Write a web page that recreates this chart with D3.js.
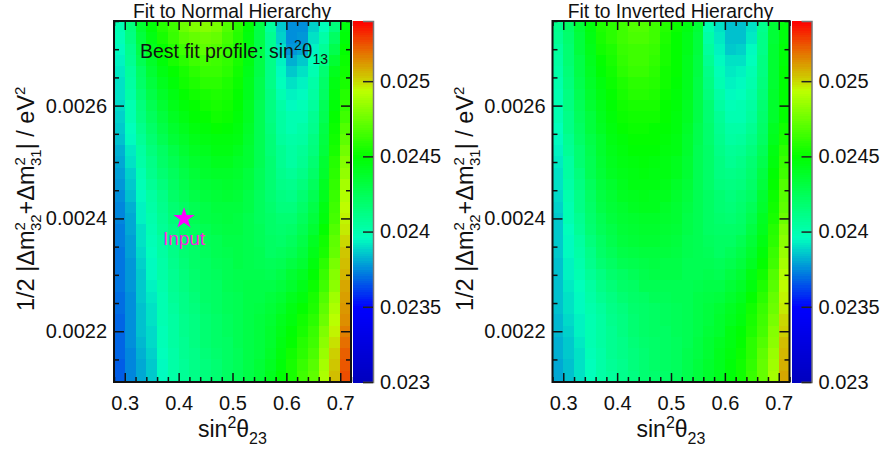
<!DOCTYPE html>
<html><head><meta charset="utf-8">
<script src="https://cdn.jsdelivr.net/npm/d3@7"></script>
<style>html,body{margin:0;background:#fff}svg{display:block}text{font-family:"Liberation Sans",Arial,sans-serif;fill:#111}</style>
</head><body><svg id="c" width="885" height="450"></svg>
<script>
// bin centres
const sinBins=[0.29,0.31,0.33,0.35,0.37,0.39,0.41,0.43,0.45,0.47,0.49,0.51,0.53,0.55,0.57,0.59,0.61,0.63,0.65,0.67,0.69,0.71];
const dmBins=[0.00274,0.00272,0.0027,0.00268,0.00266,0.00264,0.00262,0.0026,0.00258,0.00256,0.00254,0.00252,0.0025,0.00248,0.00246,0.00244,0.00242,0.0024,0.00238,0.00236,0.00234,0.00232,0.0023,0.00228,0.00226,0.00224,0.00222,0.0022,0.00218,0.00216,0.00214,0.00212];
// values are (sin2theta13 - 0.023) * 1e6, one list per sin2theta23 bin, top row first
const normalValues=[
[1000,980,960,940,920,910,900,890,880,860,840,820,800,790,770,750,740,740,730,730,720,720,710,710,700,700,690,690,680,680,670,670],
[1150,1130,1100,1080,1060,1040,1020,1000,990,970,950,920,900,880,860,840,820,810,800,790,790,780,780,770,760,760,750,750,750,740,740,740],
[1350,1320,1290,1260,1230,1200,1180,1150,1130,1100,1070,1050,1020,1000,980,960,940,930,910,900,890,880,870,860,860,850,840,840,830,820,810,810],
[1480,1450,1420,1390,1360,1330,1300,1270,1240,1210,1180,1150,1120,1100,1070,1050,1030,1010,1000,980,970,960,950,930,920,910,900,890,890,880,870,870],
[1580,1550,1510,1480,1450,1420,1390,1360,1330,1300,1270,1230,1200,1180,1150,1120,1100,1080,1070,1050,1040,1030,1020,1010,1000,1000,990,980,980,970,960,960],
[1650,1620,1580,1550,1510,1480,1450,1430,1400,1370,1340,1300,1270,1240,1220,1200,1170,1160,1140,1120,1110,1100,1090,1080,1070,1060,1050,1050,1040,1030,1020,1020],
[1750,1700,1650,1600,1560,1530,1500,1480,1450,1420,1390,1360,1330,1300,1280,1250,1230,1220,1200,1180,1170,1160,1150,1130,1120,1110,1100,1100,1090,1080,1070,1070],
[1790,1740,1690,1640,1600,1570,1540,1510,1490,1460,1430,1400,1370,1340,1320,1290,1270,1260,1240,1220,1210,1200,1190,1170,1160,1150,1140,1140,1130,1120,1110,1110],
[1800,1750,1710,1660,1620,1590,1560,1530,1510,1480,1450,1420,1390,1370,1340,1320,1300,1290,1270,1250,1240,1230,1220,1210,1200,1190,1180,1180,1170,1160,1150,1150],
[1770,1730,1690,1650,1620,1600,1570,1550,1530,1500,1470,1440,1410,1390,1360,1340,1320,1310,1290,1270,1260,1250,1240,1230,1230,1220,1210,1210,1200,1190,1180,1180],
[1680,1660,1630,1610,1590,1570,1550,1530,1520,1490,1460,1440,1410,1390,1370,1350,1330,1320,1310,1290,1280,1270,1260,1260,1250,1250,1240,1240,1230,1230,1220,1220],
[1600,1580,1570,1550,1530,1520,1510,1490,1480,1460,1440,1410,1390,1370,1360,1340,1320,1310,1310,1300,1290,1290,1280,1280,1270,1270,1260,1260,1260,1250,1250,1250],
[1480,1470,1450,1440,1430,1420,1410,1400,1400,1390,1370,1360,1350,1330,1320,1300,1290,1280,1280,1280,1280,1280,1280,1290,1290,1290,1290,1290,1290,1290,1290,1290],
[1300,1300,1290,1290,1290,1280,1280,1270,1270,1270,1260,1260,1260,1250,1250,1240,1240,1240,1250,1250,1260,1270,1280,1290,1300,1310,1320,1320,1330,1330,1340,1340],
[1060,1080,1090,1110,1120,1120,1130,1130,1140,1150,1160,1160,1170,1170,1180,1180,1190,1200,1210,1220,1230,1250,1270,1290,1320,1340,1350,1370,1380,1390,1400,1410],
[860,880,900,930,950,970,990,1020,1040,1050,1060,1080,1090,1100,1120,1130,1150,1170,1190,1210,1240,1270,1300,1330,1360,1390,1410,1430,1450,1470,1480,1490],
[750,750,770,820,860,900,930,960,990,1000,1020,1040,1050,1070,1100,1120,1150,1180,1210,1240,1270,1310,1350,1380,1410,1440,1470,1490,1510,1530,1550,1560],
[760,780,810,860,900,930,960,980,1000,1020,1040,1070,1090,1120,1150,1180,1210,1240,1270,1300,1320,1360,1400,1430,1470,1500,1530,1560,1580,1600,1620,1640],
[880,900,930,970,1000,1020,1040,1060,1080,1100,1130,1150,1180,1210,1240,1270,1300,1330,1360,1400,1430,1460,1490,1520,1550,1570,1590,1620,1650,1670,1700,1720],
[970,1020,1070,1120,1170,1200,1220,1250,1270,1290,1310,1330,1350,1370,1400,1420,1440,1470,1500,1530,1560,1590,1620,1650,1690,1720,1750,1790,1820,1850,1880,1900],
[1150,1220,1280,1350,1420,1440,1460,1480,1500,1520,1540,1560,1580,1590,1610,1630,1640,1660,1680,1710,1740,1770,1800,1830,1870,1900,1930,1960,1990,2010,2030,2050],
[1460,1480,1500,1520,1540,1560,1580,1610,1640,1680,1720,1760,1800,1840,1880,1910,1940,1960,1980,2000,2030,2050,2070,2090,2100,2120,2140,2170,2190,2220,2240,2260]
];
const invertedValues=[
[1100,1080,1060,1040,1020,1010,1000,1000,990,970,950,930,920,910,900,890,880,870,870,860,860,850,850,840,840,840,830,830,820,820,810,810],
[1200,1190,1180,1170,1160,1150,1140,1130,1120,1110,1090,1070,1050,1040,1030,1010,1000,990,970,960,950,940,930,920,910,900,890,880,870,860,850,850],
[1340,1330,1320,1300,1290,1280,1270,1250,1240,1220,1200,1180,1170,1150,1140,1120,1110,1090,1070,1050,1030,1010,990,970,960,950,940,930,920,910,900,900],
[1470,1450,1430,1420,1400,1390,1370,1350,1330,1320,1300,1280,1270,1260,1240,1220,1210,1190,1170,1150,1120,1100,1070,1050,1030,1010,1000,1000,990,980,970,970],
[1570,1550,1530,1510,1490,1470,1450,1430,1420,1400,1380,1370,1350,1340,1320,1310,1290,1270,1250,1230,1200,1170,1140,1110,1080,1060,1050,1040,1040,1030,1020,1020],
[1600,1590,1570,1560,1540,1520,1510,1490,1480,1460,1440,1430,1410,1400,1380,1360,1340,1320,1300,1280,1250,1220,1190,1160,1130,1110,1100,1090,1080,1080,1070,1060],
[1650,1640,1620,1610,1590,1570,1550,1540,1520,1500,1480,1470,1450,1430,1420,1400,1380,1360,1340,1320,1290,1260,1230,1200,1170,1150,1140,1130,1120,1110,1100,1100],
[1680,1670,1650,1640,1620,1600,1580,1560,1540,1520,1500,1490,1470,1450,1440,1420,1400,1380,1360,1340,1310,1280,1250,1230,1210,1190,1180,1170,1160,1150,1150,1140],
[1680,1670,1650,1640,1620,1600,1580,1560,1540,1520,1510,1490,1480,1460,1440,1430,1410,1390,1370,1350,1320,1300,1280,1260,1230,1210,1200,1200,1190,1180,1170,1170],
[1650,1640,1630,1610,1600,1580,1570,1550,1530,1510,1500,1490,1470,1450,1440,1420,1410,1390,1370,1350,1330,1310,1290,1270,1250,1230,1220,1220,1210,1200,1200,1190],
[1580,1570,1560,1550,1540,1530,1520,1510,1510,1490,1480,1470,1450,1440,1430,1410,1390,1380,1360,1340,1320,1300,1290,1270,1250,1240,1240,1230,1230,1220,1220,1210],
[1520,1510,1510,1500,1500,1490,1480,1480,1470,1460,1450,1440,1420,1410,1390,1380,1360,1350,1340,1320,1310,1300,1290,1270,1260,1250,1250,1250,1240,1240,1240,1240],
[1440,1430,1430,1420,1420,1410,1410,1400,1400,1390,1380,1370,1360,1350,1340,1320,1310,1300,1290,1280,1280,1270,1270,1270,1270,1270,1270,1270,1270,1280,1280,1280],
[1340,1330,1320,1310,1310,1300,1300,1290,1290,1280,1280,1270,1270,1270,1260,1260,1260,1260,1260,1260,1260,1270,1270,1280,1290,1290,1300,1300,1310,1310,1320,1320],
[1000,1030,1060,1090,1120,1140,1150,1170,1180,1190,1190,1200,1200,1210,1210,1220,1220,1230,1230,1240,1250,1260,1280,1290,1310,1320,1330,1340,1350,1360,1370,1370],
[900,920,940,960,980,1000,1030,1050,1070,1090,1100,1120,1130,1140,1150,1170,1180,1190,1200,1220,1230,1250,1270,1300,1330,1350,1370,1380,1400,1410,1420,1420],
[850,850,870,900,920,940,960,980,1000,1030,1050,1070,1090,1110,1130,1150,1160,1180,1200,1220,1250,1280,1310,1340,1370,1400,1420,1440,1450,1470,1480,1480],
[840,850,880,910,930,950,970,990,1000,1030,1060,1090,1110,1130,1150,1170,1190,1210,1230,1260,1290,1320,1360,1390,1420,1450,1470,1490,1510,1520,1540,1540],
[900,920,950,970,990,1010,1030,1050,1060,1090,1120,1150,1170,1190,1210,1230,1250,1280,1310,1340,1370,1400,1440,1470,1500,1530,1550,1570,1590,1600,1610,1620],
[1100,1110,1120,1130,1140,1150,1160,1180,1190,1210,1230,1250,1280,1310,1330,1360,1380,1400,1420,1450,1480,1510,1540,1570,1590,1620,1640,1660,1680,1710,1730,1740],
[1340,1340,1350,1350,1360,1360,1370,1370,1380,1400,1420,1440,1460,1490,1510,1520,1540,1560,1580,1600,1620,1650,1680,1700,1730,1750,1780,1800,1820,1850,1870,1880],
[1470,1470,1480,1480,1490,1490,1490,1500,1500,1530,1560,1590,1620,1650,1680,1700,1720,1750,1790,1820,1850,1880,1910,1940,1960,1980,2000,2020,2040,2060,2080,2090]
];
const xTicks=[0.3,0.4,0.5,0.6,0.7];
const xMinor=[0.28,0.32,0.34,0.36,0.38,0.42,0.44,0.46,0.48,0.52,0.54,0.56,0.58,0.62,0.64,0.66,0.68,0.72];
const yTicks=[0.0022,0.0024,0.0026];
const yMinor=[0.00215,0.00225,0.0023,0.00235,0.00245,0.0025,0.00255,0.00265,0.0027,0.00275];
const zTicks=[0.023,0.0235,0.024,0.0245,0.025];
const colorStops=[0.023,0.0235,0.02396,0.0245,0.02494,0.02502,0.0252,0.0254];
const colorRange=["#0000be","#0000ff","#00ffbe","#00ff00","#beff00","#cdcd00","#e66e00","#ff0000"];
const titles=["Fit to Normal Hierarchy","Fit to Inverted Hierarchy"];
const inputPoint={x:0.41,y:0.0024,label:"Input"};

const svg=d3.select("#c");
const base=d3.scaleLinear().domain(colorStops).range(colorRange).interpolate(d3.interpolateRgb);
const levels=160, zMin=0.023, zMax=0.0254;
const band=v=>{const k=Math.max(0,Math.min(levels-1,Math.floor((v-zMin)/(zMax-zMin)*levels)));return base(zMin+(k+.5)*(zMax-zMin)/levels);};
const fmt=d=>String(+d.toFixed(5));

function rich(g,parts,attrs){
  const t=g.append("text");
  Object.entries(attrs).forEach(([k,v])=>t.attr(k,v));
  let prev=0;
  parts.forEach(p=>{
    const off=p.up||0;
    t.append("tspan").attr("dy",prev-off).attr("dx",p.dx||0).attr("font-size",p.size).text(p.s);
    prev=off;
  });
  return t;
}

function panel(left,values,title,idx){
  const W=237,top=21,bottom=382,right=left+W;
  const g=svg.append("g");
  const x=d3.scaleLinear().domain([0.28,0.72]).range([left,right]);
  const y=d3.scaleLinear().domain([0.00211,0.00275]).range([bottom,top]);
  const z=d3.scaleLinear().domain([zMin,zMax]).range([bottom,top]);
  const cells=g.append("g").attr("shape-rendering","crispEdges");
  values.forEach((col,i)=>col.forEach((v,j)=>{
    cells.append("rect")
      .attr("x",x(sinBins[i]-0.01)).attr("width",x(sinBins[i]+0.01)-x(sinBins[i]-0.01)+0.5)
      .attr("y",y(dmBins[j]+0.00001)).attr("height",y(dmBins[j]-0.00001)-y(dmBins[j]+0.00001)+0.5)
      .attr("fill",band(0.023+v*1e-6));
  }));
  // colour bar
  const cbx=right+2,cbw=20;
  const bar=g.append("g").attr("shape-rendering","crispEdges");
  d3.range(levels).forEach(k=>{
    const a=zMin+k*(zMax-zMin)/levels,b=zMin+(k+1)*(zMax-zMin)/levels;
    bar.append("rect").attr("x",cbx).attr("width",cbw).attr("y",z(b)).attr("height",z(a)-z(b)+0.5).attr("fill",band((a+b)/2));
  });
  // axes: major and minor ticks on every side, pointing inwards
  const tick=(axis,scale,vals,len,tx,ty)=>{
    const a=g.append("g").attr("transform",`translate(${tx},${ty})`)
      .call(axis(scale).tickValues(vals).tickSize(len).tickFormat(""));
    a.select(".domain").remove();
    a.selectAll("line").attr("stroke","#111").attr("stroke-width",1.5);
    return a;
  };
  tick(d3.axisBottom,x,xTicks,-9,0,bottom);tick(d3.axisBottom,x,xMinor,-5,0,bottom);
  tick(d3.axisTop,x,xTicks,-9,0,top);tick(d3.axisTop,x,xMinor,-5,0,top);
  tick(d3.axisLeft,y,yTicks,-10,left,0);tick(d3.axisLeft,y,yMinor,-5,left,0);
  tick(d3.axisRight,y,yTicks,-10,right,0);tick(d3.axisRight,y,yMinor,-5,right,0);
  // tick labels
  const xl=g.append("g").attr("transform",`translate(0,${bottom})`)
    .call(d3.axisBottom(x).tickValues(xTicks).tickSize(0).tickPadding(14).tickFormat(fmt));
  xl.select(".domain").remove();
  xl.selectAll("text").attr("font-size",20).attr("font-family","Liberation Sans").attr("fill","#111");
  const yl=g.append("g").attr("transform",`translate(${left},0)`)
    .call(d3.axisLeft(y).tickValues(yTicks).tickSize(0).tickPadding(7).tickFormat(fmt));
  yl.select(".domain").remove();
  yl.selectAll("text").attr("font-size",20).attr("font-family","Liberation Sans").attr("fill","#111");
  const zl=g.append("g").attr("transform",`translate(${cbx+cbw},0)`)
    .call(d3.axisRight(z).tickValues(zTicks).tickSize(-10).tickPadding(7).tickFormat(fmt));
  zl.select(".domain").attr("stroke","#777").attr("stroke-width",1.5);
  zl.selectAll("line").attr("stroke","#222").attr("stroke-width",1.5);
  zl.selectAll("text").attr("font-size",20).attr("font-family","Liberation Sans").attr("fill","#111");
  // frame
  g.append("rect").attr("x",left).attr("y",top).attr("width",W).attr("height",bottom-top)
    .attr("fill","none").attr("stroke","#111").attr("stroke-width",2);
  // titles
  g.append("text").attr("x",(left+right)/2-0.5).attr("y",17.5).attr("text-anchor","middle").attr("font-size",19.3).text(title);
  rich(g,[{s:"sin",size:23},{s:"2",size:16,up:9},{s:"θ",size:23},{s:"23",size:16,up:-7}],
    {x:left+84,y:437});
  const lx=left-80, ly=311;
  rich(g,[{s:"1/2 |Δm",size:23.5},{s:"2",size:15,up:9},{s:"32",size:15,up:-7,dx:-9},{s:"+Δm",size:23.5},{s:"2",size:15,up:9},{s:"31",size:15,up:-7,dx:-9},{s:"| / eV",size:23.5},{s:"2",size:15,up:9}],
    {transform:`translate(${lx},${ly}) rotate(-90)`});
  return {g,x,y};
}

const a=panel(114,normalValues,titles[0],0);
panel(552.5,invertedValues,titles[1],1);

rich(a.g,[{s:"Best fit profile: sin",size:19.5},{s:"2",size:14,up:8},{s:"θ",size:19.5},{s:"13",size:14,up:-6}],{x:140,y:58});
const star=d3.symbol().type(d3.symbolStar).size(140);
a.g.append("path").attr("d",star()).attr("fill","#ff00ff").attr("transform",`translate(${a.x(inputPoint.x)},${a.y(inputPoint.y)})`);
a.g.append("text").attr("x",a.x(inputPoint.x)).attr("y",a.y(inputPoint.y)+27).attr("text-anchor","middle").attr("font-size",19).style("fill","#ff20e0").text(inputPoint.label);
</script></body></html>
